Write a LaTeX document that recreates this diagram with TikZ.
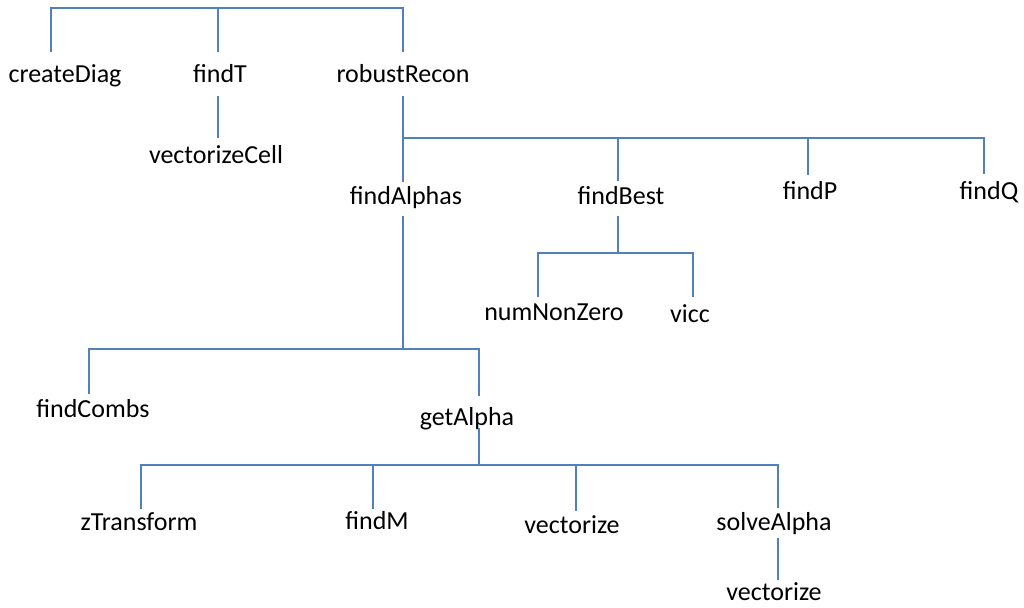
\documentclass[tikz,border=0pt]{standalone}
\usepackage{fontspec}
\setmainfont{Carlito}
\definecolor{linkblue}{RGB}{79,129,189}
\tikzset{
  lbl/.style={anchor=base, inner sep=0pt, font=\fontsize{26}{30}\selectfont, text=black},
  link/.style={draw=linkblue, line width=1.2pt},
}
\begin{document}
\begin{tikzpicture}[x=1pt,y=-1pt]
\useasboundingbox[fill=white] (0,0) rectangle (1024,607);

% function names
\node[lbl] (createDiag)    at (65,83)   {createDiag};
\node[lbl] (findT)         at (220,83)  {findT};
\node[lbl] (robustRecon)   at (403,83)  {robustRecon};
\node[lbl] (vectorizeCell) at (216,163) {vectorizeCell};
\node[lbl] (findAlphas)    at (406,204) {findAlphas};
\node[lbl] (findBest)      at (621,204) {findBest};
\node[lbl] (findP)         at (810,199) {findP};
\node[lbl] (findQ)         at (989,199) {findQ};
\node[lbl] (numNonZero)    at (554,320) {numNonZero};
\node[lbl] (vicc)          at (690,322) {vicc};
\node[lbl] (findCombs)     at (93,417)  {findCombs};
\node[lbl] (getAlpha)      at (467,425) {getAlpha};
\node[lbl] (zTransform)    at (139,530) {zTransform};
\node[lbl] (findM)         at (377,529) {findM};
\node[lbl] (vectorize)     at (572,533) {vectorize};
\node[lbl] (solveAlpha)    at (774,530) {solveAlpha};
\node[lbl] (vectorizeB)    at (774,600) {vectorize};

% connector ports (top = incoming, bottom = outgoing)
\coordinate (root)            at (218,8);
\coordinate (createDiag-in)   at (51,52);
\coordinate (findT-in)        at (218,52);
\coordinate (robustRecon-in)  at (403,52);
\coordinate (findT-out)       at (218,96);
\coordinate (vectorizeCell-in) at (218,138);
\coordinate (robustRecon-out) at (403,96);
\coordinate (rrbar)           at (403,138);
\coordinate (findAlphas-in)   at (403,182);
\coordinate (findBest-in)     at (618,181);
\coordinate (findP-in)        at (808,175);
\coordinate (findQ-in)        at (984,174);
\coordinate (findAlphas-out)  at (403,216);
\coordinate (fabar)           at (403,349);
\coordinate (findCombs-in)    at (89,394);
\coordinate (getAlpha-in)     at (479,396);
\coordinate (findBest-out)    at (618,216);
\coordinate (fbbar)           at (618,253);
\coordinate (numNonZero-in)   at (538,297);
\coordinate (vicc-in)         at (693,297);
\coordinate (getAlpha-out)    at (479,428);
\coordinate (gabar)           at (479,465);
\coordinate (zTransform-in)   at (141,509);
\coordinate (findM-in)        at (373,509);
\coordinate (vectorize-in)    at (576,511);
\coordinate (solveAlpha-in)   at (778,508);
\coordinate (solveAlpha-out)  at (778,538);
\coordinate (vectorizeB-in)   at (778,580);

% call tree
\draw[link] (createDiag-in) |- (root) -| (robustRecon-in);
\draw[link] (root) -- (findT-in);
\draw[link] (findT-out) -- (vectorizeCell-in);

\draw[link] (robustRecon-out) -- (findAlphas-in);
\draw[link] (rrbar) -| (findQ-in);
\draw[link] (rrbar -| findBest-in) -- (findBest-in);
\draw[link] (rrbar -| findP-in) -- (findP-in);

\draw[link] (findAlphas-out) -- (fabar);
\draw[link] (findCombs-in) |- (fabar) -| (getAlpha-in);

\draw[link] (findBest-out) -- (fbbar);
\draw[link] (numNonZero-in) |- (fbbar) -| (vicc-in);

\draw[link] (getAlpha-out) -- (gabar);
\draw[link] (zTransform-in) |- (gabar) -| (solveAlpha-in);
\draw[link] (gabar -| findM-in) -- (findM-in);
\draw[link] (gabar -| vectorize-in) -- (vectorize-in);

\draw[link] (solveAlpha-out) -- (vectorizeB-in);
\end{tikzpicture}
\end{document}
